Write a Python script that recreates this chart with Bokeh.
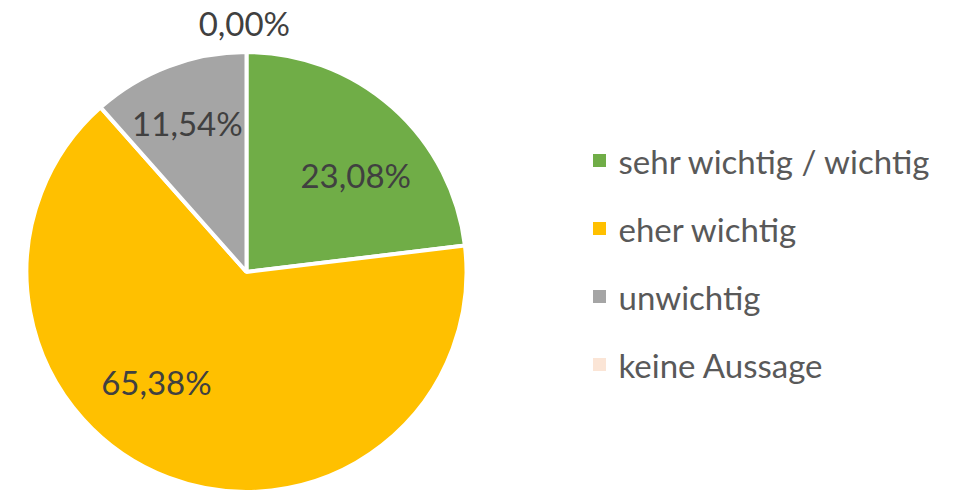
import math
from bokeh.plotting import figure
from bokeh.models import Range1d, ColumnDataSource
from bokeh.core.properties import value
from bokeh.embed import file_html
from bokeh.resources import INLINE

# ---- data ----
categories = ["sehr wichtig / wichtig", "eher wichtig", "unwichtig", "keine Aussage"]
percents = [23.08, 65.38, 11.54, 0.00]
labels = ["23,08%", "65,38%", "11,54%", "0,00%"]
colors = ["#70AD47", "#FFC000", "#A5A5A5", "#FBE5D6"]

# ---- layout (picture pixels -> data: x = px, y = 493 - py) ----
W, H = 959, 493
CX, CY, R = 246, 493 - 271.5, 220
# label placement: (angle in degrees, radius factor)
label_place = [(41.7, 0.665), (-129.4, 0.645), (111.7, 0.727), (90.5, 1.13)]
LEG_X_BOX, LEG_X_TXT, LEG_Y0, LEG_DY, BOX = 599, 618, 160, 68, 13

p = figure(width=W, height=H, output_backend="svg", toolbar_location=None,
           x_range=Range1d(0, W), y_range=Range1d(0, H),
           min_border=0, outline_line_color=None)
p.axis.visible = False
p.grid.visible = False
p.background_fill_color = "white"
p.border_fill_color = "white"

total = sum(percents)
starts, ends, cols = [], [], []
cum = 0.0
for v, c in zip(percents, colors):
    a0 = 90 - 360 * cum / total
    cum += v
    a1 = 90 - 360 * cum / total
    if v > 0:
        starts.append(math.radians(a0))
        ends.append(math.radians(a1))
        cols.append(c)

wsrc = ColumnDataSource(dict(x=[CX] * len(starts), y=[CY] * len(starts),
                             s=starts, e=ends, c=cols))
p.wedge(x="x", y="y", radius=R, start_angle="s", end_angle="e", direction="clock",
        fill_color="c", line_color="white", line_width=4, source=wsrc)

lx, ly = [], []
for ang, rf in label_place:
    lx.append(CX + R * rf * math.cos(math.radians(ang)))
    ly.append(CY + R * rf * math.sin(math.radians(ang)))
p.text(x=lx, y=ly, text=labels, text_align="center", text_baseline="middle",
       text_font=value("Lato"), text_font_size="33px", text_color="#404040")

# legend
ry = [493 - (LEG_Y0 + i * LEG_DY) for i in range(len(categories))]
p.rect(x=[LEG_X_BOX] * len(categories), y=ry, width=BOX, height=BOX,
       fill_color=colors, line_color=None)
p.text(x=[LEG_X_TXT] * len(categories), y=ry, text=categories,
       text_align="left", text_baseline="middle",
       text_font=value("Lato"), text_font_size="33px", text_color="#595959")

open("out.html", "w").write(file_html(p, INLINE))
